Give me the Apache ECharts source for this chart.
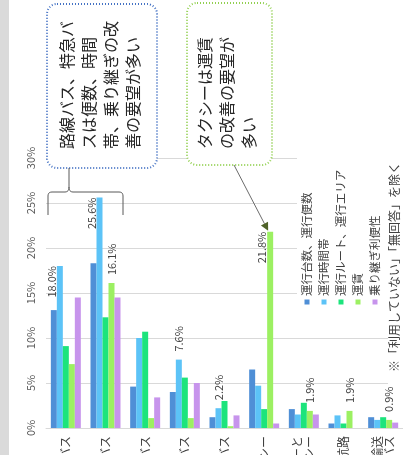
<!DOCTYPE html>
<html><head><meta charset="utf-8">
<script src="https://cdn.jsdelivr.net/npm/echarts@6/dist/echarts.min.js"></script>
<style>html,body{margin:0;padding:0;background:#fff}#c{width:403px;height:455px}</style>
</head><body><div id="c"></div>
<script>
const categories = ['路線バス','特急バス','コミュニティバス','スクールバス','福祉バス','タクシー','乗合タクシーと\nデマンドタクシー','航路','患者輸送\nバス'];
const seriesNames = ['運行台数、運行便数','運行時間帯','運行ルート、運行エリア','運賃','乗り継ぎ利便性'];
const valsTaisu   = [13.1, 18.3, 4.6, 4.0, 1.2, 6.5, 2.1, 0.5, 1.2];
const valsJikan   = [18.0, 25.6, 10.0, 7.6, 2.2, 4.7, 1.5, 1.4, 0.9];
const valsRoute   = [9.1, 12.3, 10.7, 5.6, 3.0, 2.1, 2.8, 0.5, 1.2];
const valsUnchin  = [7.1, 16.1, 1.1, 1.1, 0.2, 21.8, 1.9, 1.9, 0.9];
const valsNoritsugi = [14.5, 14.5, 3.4, 5.0, 1.4, 0.5, 1.5, 0.0, 0.6];
const valueTicks = [0, 5, 10, 15, 20, 25, 30];
const noteText = '※「利用していない」「無回答」を除く';
const calloutBus = '路線バス、特急バ\nスは便数、時間\n帯、乗り継ぎの改\n善の要望が多い';
const calloutTaxi = 'タクシーは運賃\nの改善の要望が\n多い';
// which bars carry a value label (series index -> category indices)
const labelsAbove = {1: [3, 4], 3: [1, 6, 7, 8]};
const labelsBeside = {1: [0, 1], 3: [5]};

const colors = ['#4f8fd6', '#5cc3f7', '#1ce47c', '#9cf062', '#c794ec'];
const FONT = "'Noto Sans CJK JP', 'Noto Sans', sans-serif";
const allVals = [valsTaisu, valsJikan, valsRoute, valsUnchin, valsNoritsugi];

function mkData(vals, si) {
  return vals.map((v, i) => {
    const d = {value: v};
    if ((labelsAbove[si] || []).includes(i)) {
      d.label = {show: true, position: 'top', distance: 8, rotate: 90, align: 'left', verticalAlign: 'middle'};
    } else if ((labelsBeside[si] || []).includes(i)) {
      d.label = {show: true, position: 'top', distance: 0, rotate: 90, align: 'right', verticalAlign: 'middle', offset: [0, -8]};
    }
    return d;
  });
}

const chart = echarts.init(document.getElementById('c'), null, {renderer: 'canvas'});
const series = seriesNames.map((n, si) => ({
  name: n, type: 'bar', barWidth: 6, barGap: '0%',
  itemStyle: {color: colors[si]},
  label: {show: false, formatter: p => p.value.toFixed(1) + '%', fontSize: 11, color: '#404040', fontFamily: FONT},
  data: mkData(allVals[si], si),
  animation: false
}));

chart.setOption({
  animation: false,
  textStyle: {fontFamily: FONT},
  grid: {left: 46, right: 0, top: 158, bottom: 27, containLabel: false, outerBoundsMode: 'none'},
  xAxis: {
    type: 'category', data: categories,
    axisTick: {show: false},
    axisLine: {lineStyle: {color: '#d9d9d9'}},
    axisLabel: {rotate: 90, margin: 8, fontSize: 12, color: '#404040', interval: 0, fontFamily: FONT}
  },
  yAxis: {
    type: 'value', min: valueTicks[0], max: valueTicks[valueTicks.length - 1], interval: 5,
    axisLine: {show: false}, axisTick: {show: false},
    splitLine: {lineStyle: {color: '#d9d9d9'}},
    axisLabel: {formatter: '{value}%', rotate: 90, margin: 10, fontSize: 11, color: '#595959', fontFamily: FONT}
  },
  series: series
});

// arrow target from data
const tgt = chart.convertToPixel({xAxisIndex: 0, yAxisIndex: 0}, [5, valsUnchin[5]]);
const tip = [tgt[0] + 6 - 2, tgt[1] - 1];
const start = [234, 165];
const dx = tip[0] - start[0], dy = tip[1] - start[1], L = Math.hypot(dx, dy);
const ux = dx / L, uy = dy / L, hl = 8, hw = 4;
const base = [tip[0] - ux * hl, tip[1] - uy * hl];
const head = [tip, [base[0] - uy * hw, base[1] + ux * hw], [base[0] + uy * hw, base[1] - ux * hw]];

// curly brace (annotation) built from quadratic curves
function quad(p0, p1, p2, n) {
  const pts = [];
  for (let k = 0; k <= n; k++) {
    const t = k / n, a = (1 - t) * (1 - t), b = 2 * (1 - t) * t, c = t * t;
    pts.push([a * p0[0] + b * p1[0] + c * p2[0], a * p0[1] + b * p1[1] + c * p2[1]]);
  }
  return pts;
}
const braceLeft = [[48, 215]].concat(quad([48, 196], [48, 192], [52, 192], 6), quad([65, 192], [69, 192], [69, 187], 6), [[69, 168]]);
const braceRight = quad([69, 187], [69, 192], [73, 192], 6).concat(quad([119, 192], [123, 192], [123, 196], 6), [[123, 215]]);

const legendX = [307, 324, 341, 358, 375];
const legendEls = [];
seriesNames.forEach((n, i) => {
  legendEls.push({type: 'rect', z: 20, shape: {x: legendX[i] - 2.5, y: 299.5, width: 5, height: 5}, style: {fill: colors[i]}});
  legendEls.push({type: 'text', z: 20, x: legendX[i], y: 296, rotation: Math.PI / 2,
    style: {text: n, fontSize: 11.5, fill: '#404040', align: 'left', verticalAlign: 'middle', fontFamily: FONT}});
});

chart.setOption({
  graphic: {elements: [
    {type: 'rect', z: 10, shape: {x: 0, y: 0, width: 9, height: 455}, style: {fill: '#dadada'}},
    {type: 'rect', z: 10, shape: {x: 297, y: 150, width: 91, height: 157}, style: {fill: '#fff'}},
    {type: 'rect', z: 10, shape: {x: 388, y: 150, width: 15, height: 236}, style: {fill: '#fff'}},
    {type: 'text', z: 20, x: 394, y: 372, rotation: Math.PI / 2,
      style: {text: noteText, fontSize: 12, fill: '#404040', align: 'left', verticalAlign: 'middle', fontFamily: FONT}},
    ...legendEls,
    {type: 'rect', z: 20, shape: {x: 47, y: 4, width: 110, height: 164, r: 10},
      style: {fill: '#fff', stroke: '#4472c4', lineWidth: 2, lineDash: [1, 2]}},
    {type: 'text', z: 21, x: 56, y: 149, rotation: Math.PI / 2,
      style: {text: calloutBus, fontSize: 16, lineHeight: 22, fill: '#262626', align: 'left', verticalAlign: 'top', fontFamily: FONT}},
    {type: 'rect', z: 20, shape: {x: 187, y: 3, width: 85, height: 162, r: 10},
      style: {fill: '#fff', stroke: '#92d050', lineWidth: 2, lineDash: [1, 2]}},
    {type: 'text', z: 21, x: 194, y: 149, rotation: Math.PI / 2,
      style: {text: calloutTaxi, fontSize: 16, lineHeight: 22, fill: '#262626', align: 'left', verticalAlign: 'top', fontFamily: FONT}},
    {type: 'polyline', z: 20, shape: {points: braceLeft}, style: {fill: null, stroke: '#595959', lineWidth: 1}},
    {type: 'polyline', z: 20, shape: {points: braceRight}, style: {fill: null, stroke: '#595959', lineWidth: 1}},
    {type: 'line', z: 20, shape: {x1: start[0], y1: start[1], x2: base[0], y2: base[1]}, style: {stroke: '#6b6b6b', lineWidth: 1}},
    {type: 'polygon', z: 20, shape: {points: head}, style: {fill: '#4f6228'}}
  ]}
});
</script></body></html>
